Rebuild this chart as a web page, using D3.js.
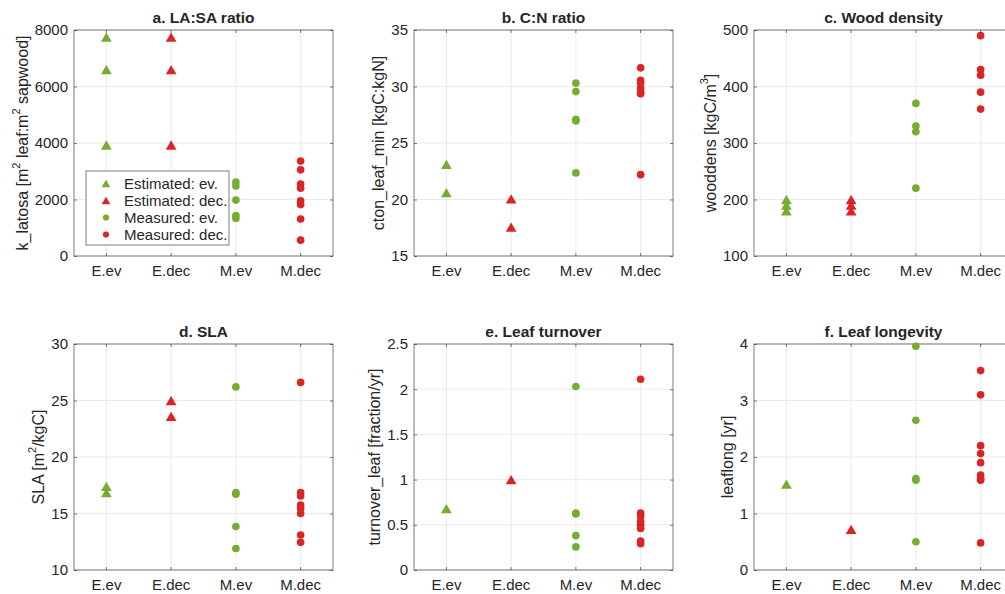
<!DOCTYPE html>
<html>
<head>
<meta charset="utf-8">
<script src="https://cdn.jsdelivr.net/npm/d3@7"></script>
<style>
  body { margin: 0; background: #fff; }
  text { font-family: "Liberation Sans", Helvetica, Arial, sans-serif; fill: #262626; }
</style>
</head>
<body>
<svg id="chart" width="1005" height="594"></svg>
<script>
const categories = ['E.ev', 'E.dec', 'M.ev', 'M.dec'];

// each panel: values for E.ev, E.dec, M.ev, M.dec
const latosa = [
  [7750, 6600, 3930],
  [7750, 6600, 3930],
  [2620, 2480, 1980, 1430, 1330],
  [3360, 3050, 2550, 2400, 1950, 1820, 1310, 560]
];
const cnRatio = [
  [23.1, 20.6],
  [20.05, 17.55],
  [30.3, 29.55, 27.1, 26.95, 22.35],
  [31.65, 30.55, 30.3, 29.85, 29.5, 29.35, 22.2]
];
const woodDens = [
  [200, 190, 180],
  [200, 190, 180],
  [370, 330, 320, 220],
  [490, 430, 420, 390, 360]
];
const sla = [
  [17.4, 16.85],
  [25.0, 23.6],
  [26.2, 16.85, 16.7, 13.85, 11.9],
  [26.6, 16.85, 16.55, 15.75, 15.45, 15.0, 13.1, 12.45]
];
const turnover = [
  [0.68],
  [1.0],
  [2.03, 0.63, 0.62, 0.38, 0.255],
  [2.11, 0.63, 0.6, 0.54, 0.5, 0.46, 0.32, 0.29]
];
const leafLong = [
  [1.52],
  [0.72],
  [3.96, 2.65, 1.62, 1.59, 0.5],
  [3.53, 3.1, 2.2, 2.06, 1.9, 1.68, 1.62, 1.59, 0.48]
];

const titles = ['a. LA:SA ratio', 'b. C:N ratio', 'c. Wood density', 'd. SLA', 'e. Leaf turnover', 'f. Leaf longevity'];
const yTicks = [
  [0, 2000, 4000, 6000, 8000],
  [15, 20, 25, 30, 35],
  [100, 200, 300, 400, 500],
  [10, 15, 20, 25, 30],
  [0, 0.5, 1, 1.5, 2, 2.5],
  [0, 1, 2, 3, 4]
];
// y labels as [text, superscript?] pieces
const yLabels = [
  [['k_latosa [m'], ['2', 1], [' leaf:m'], ['2', 1], [' sapwood]']],
  [['cton_leaf_min [kgC:kgN]']],
  [['wooddens [kgC/m'], ['3', 1], [']']],
  [['SLA [m'], ['2', 1], ['/kgC]']],
  [['turnover_leaf [fraction/yr]']],
  [['leaflong [yr]']]
];

const legendLabels = ['Estimated: ev.', 'Estimated: dec.', 'Measured: ev.', 'Measured: dec.'];
const green = '#77AC30';
const red = '#DB2424';
const colors = [green, red, green, red];
const shapes = [d3.symbolTriangle, d3.symbolTriangle, d3.symbolCircle, d3.symbolCircle];

const panelData = [latosa, cnRatio, woodDens, sla, turnover, leafLong];

const colLeft = [74, 414, 754];
const rowTop = [30, 344];
const width = 259;
const height = 226;

// d3 triangles sit on their centroid; MATLAB centres the marker box
const triShift = s => Math.sqrt(4 * s / Math.sqrt(3)) * Math.sqrt(3) / 2 / 6;

const svg = d3.select('#chart');

panelData.forEach((data, i) => {
  const ticks = yTicks[i];
  const g = svg.append('g')
    .attr('transform', `translate(${colLeft[i % 3]}, ${rowTop[Math.floor(i / 3)]})`);

  const xScale = d3.scaleBand().domain(categories).range([0, width]);
  const xc = c => xScale(c) + xScale.bandwidth() / 2;
  const yScale = d3.scaleLinear().domain([ticks[0], ticks[ticks.length - 1]]).range([height, 0]);

  // grid
  g.append('g').selectAll('line')
    .data(ticks)
    .enter().append('line')
      .attr('x1', 0).attr('x2', width)
      .attr('y1', d => yScale(d)).attr('y2', d => yScale(d))
      .attr('stroke', '#e6e6e6').attr('stroke-width', 0.8);
  g.append('g').selectAll('line')
    .data(categories)
    .enter().append('line')
      .attr('x1', d => xc(d)).attr('x2', d => xc(d))
      .attr('y1', 0).attr('y2', height)
      .attr('stroke', '#e6e6e6').attr('stroke-width', 0.8);

  // axes (inward ticks)
  const yAxis = g.append('g')
    .call(d3.axisLeft(yScale).tickValues(ticks).tickSize(-3).tickPadding(6).tickFormat(d3.format('~g')));
  g.append('g')
    .attr('transform', `translate(${width},0)`)
    .call(d3.axisRight(yScale).tickValues(ticks).tickSize(-3).tickFormat(''));
  g.append('g')
    .attr('transform', `translate(0,${height})`)
    .call(d3.axisBottom(xScale).tickSize(-3).tickPadding(9));
  g.append('g')
    .call(d3.axisTop(xScale).tickSize(-3).tickFormat(''));

  g.selectAll('.domain').remove();
  g.selectAll('.tick line').attr('stroke', '#262626').attr('stroke-width', 0.6);
  g.selectAll('.tick text')
    .attr('font-size', 15)
    .attr('fill', '#262626')
    .style('font-family', '"Liberation Sans", Helvetica, Arial, sans-serif');

  g.append('rect')
    .attr('width', width).attr('height', height)
    .attr('fill', 'none')
    .attr('stroke', '#262626')
    .attr('stroke-width', 0.6);

  // title
  g.append('text')
    .attr('x', width / 2).attr('y', -7)
    .attr('text-anchor', 'middle')
    .attr('font-size', 15.5)
    .attr('font-weight', 'bold')
    .attr('fill', '#000')
    .text(titles[i]);

  // y label, placed from tick label width
  let maxW = 0;
  yAxis.selectAll('.tick text').each(function () {
    maxW = Math.max(maxW, this.getComputedTextLength());
  });
  const lab = g.append('text')
    .attr('transform', `translate(${-(6 + maxW + 13)},${height / 2}) rotate(-90)`)
    .attr('text-anchor', 'middle')
    .attr('dominant-baseline', 'central')
    .attr('font-size', 16);
  yLabels[i].forEach(p => {
    const t = lab.append('tspan').text(p[0]);
    if (p[1]) t.attr('font-size', 11).attr('baseline-shift', 'super');
  });

  // markers
  data.forEach((vals, k) => {
    const size = k < 2 ? 50 : 46;
    const dy = k < 2 ? triShift(size) : 0;
    g.selectAll(null)
      .data(vals)
      .enter().append('path')
        .attr('d', d3.symbol().type(shapes[k]).size(size))
        .attr('transform', d => `translate(${xc(categories[k])},${yScale(d) + dy})`)
        .attr('fill', colors[k]);
  });

  // legend only in panel a
  if (i === 0) {
    const lg = g.append('g').attr('transform', 'translate(12,141)');
    lg.append('rect')
      .attr('width', 143).attr('height', 74)
      .attr('fill', '#fff')
      .attr('stroke', '#262626')
      .attr('stroke-width', 0.6);
    legendLabels.forEach((name, k) => {
      const yy = 12.5 + k * 17;
      const size = k < 2 ? 34 : 30;
      lg.append('path')
        .attr('d', d3.symbol().type(shapes[k]).size(size))
        .attr('transform', `translate(20,${yy + (k < 2 ? triShift(size) : 0)})`)
        .attr('fill', colors[k]);
      lg.append('text')
        .attr('x', 38).attr('y', yy)
        .attr('dominant-baseline', 'central')
        .attr('font-size', 15)
        .text(name);
    });
  }
});
</script>
</body>
</html>
